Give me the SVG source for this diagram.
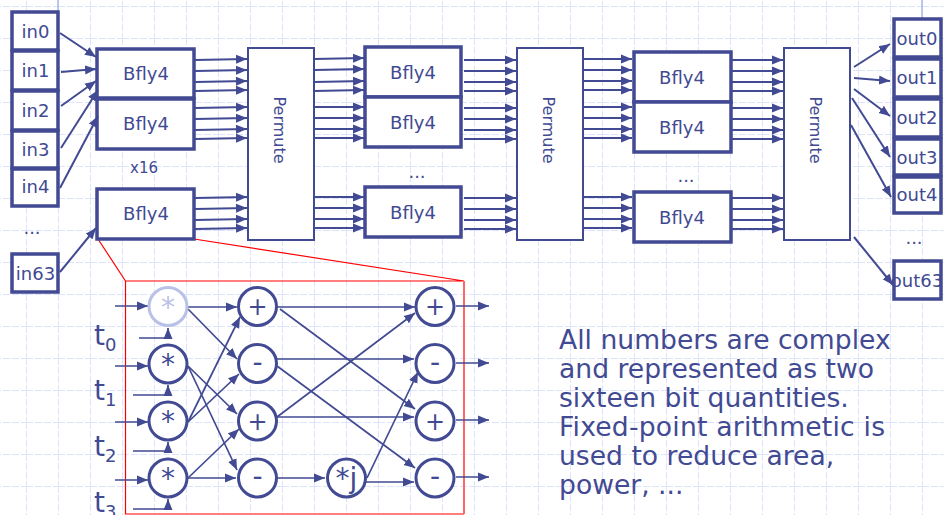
<svg xmlns="http://www.w3.org/2000/svg" width="944" height="515" viewBox="0 0 944 515">
<style>
text{font-family:"DejaVu Sans",Verdana,sans-serif;fill:#414a92}
.b{fill:#fff;stroke:#414a92;stroke-width:3.5}
.p{fill:#fff;stroke:#414a92;stroke-width:2}
.l{font-size:18px;text-anchor:middle}
.c{fill:#fff;stroke:#414a92;stroke-width:3}
.o{font-size:28px;text-anchor:middle}
.q{font-size:24px;text-anchor:middle}
.t{font-size:28px}
.s{font-size:18px}
.m{font-size:26.600px}
.w path{fill:none;stroke:#414a92;stroke-width:2;marker-end:url(#a)}
.n path{fill:none;stroke:#414a92;stroke-width:1.700;marker-end:url(#a)}
</style>
<defs>
<marker id="a" markerUnits="userSpaceOnUse" markerWidth="12" markerHeight="10" refX="11" refY="5" orient="auto"><path d="M0 0.500L11 5L0 9.500Z" fill="#414a92"/></marker>
<pattern id="grid" width="32" height="32" patternUnits="userSpaceOnUse" x="26" y="6"><path d="M0 0H32M0 0V32" fill="none" stroke="#d3dcfa" stroke-width="1.500" stroke-dasharray="7 2"/></pattern>
</defs>
<rect width="944" height="515" fill="#fff"/>
<rect width="944" height="515" fill="url(#grid)"/>
<path d="M58 0V12M922 0V56" stroke="#a9b6ee" stroke-width="1.500" fill="none"/>

<g id="red" fill="none" stroke="#f00" stroke-width="1.200">
<path d="M98 239L125.500 281H464M194 239L464 281"/>
<path d="M125.500 281V514H464"/>
<path d="M464 281V514" stroke="#f66" stroke-width="2"/>
</g>

<g id="in0"><rect class="b" x="12" y="12" width="46" height="38"/><text class="l" x="35.500" y="38">in0</text></g>
<g id="in1"><rect class="b" x="12" y="51" width="46" height="39"/><text class="l" x="35.500" y="77">in1</text></g>
<g id="in2"><rect class="b" x="12" y="91" width="46" height="39"/><text class="l" x="35.500" y="117">in2</text></g>
<g id="in3"><rect class="b" x="12" y="131" width="46" height="37"/><text class="l" x="35.500" y="156">in3</text></g>
<g id="in4"><rect class="b" x="12" y="169" width="46" height="37"/><text class="l" x="35.500" y="193">in4</text></g>
<g id="in63"><rect class="b" x="12" y="254" width="46" height="38"/><text class="l" x="35.500" y="280">in63</text></g>
<text class="l" x="32" y="234">...</text>

<g id="b1"><rect class="b" x="97" y="49" width="97" height="49"/><text class="l" x="146" y="80">Bfly4</text></g>
<g id="b2"><rect class="b" x="97" y="99" width="97" height="50"/><text class="l" x="146" y="130">Bfly4</text></g>
<g id="b3"><rect class="b" x="97" y="189" width="97" height="50"/><text class="l" x="146" y="220">Bfly4</text></g>
<text x="144" y="173" font-size="15" text-anchor="middle">x16</text>

<g id="b4"><rect class="b" x="365" y="47" width="96" height="50"/><text class="l" x="413" y="79">Bfly4</text></g>
<g id="b5"><rect class="b" x="365" y="97" width="96" height="50"/><text class="l" x="413" y="129">Bfly4</text></g>
<g id="b6"><rect class="b" x="365" y="187" width="96" height="50"/><text class="l" x="413" y="219">Bfly4</text></g>
<text class="l" x="417" y="178">...</text>

<g id="b7"><rect class="b" x="634" y="52" width="97" height="50"/><text class="l" x="682" y="84">Bfly4</text></g>
<g id="b8"><rect class="b" x="634" y="102" width="97" height="50"/><text class="l" x="682" y="134">Bfly4</text></g>
<g id="b9"><rect class="b" x="634" y="192" width="97" height="50"/><text class="l" x="682" y="224">Bfly4</text></g>
<text class="l" x="686" y="182">...</text>

<g id="p1"><rect class="p" x="248" y="48" width="66" height="192"/><text font-size="16" text-anchor="middle" transform="translate(274 130) rotate(90)">Permute</text></g>
<g id="p2"><rect class="p" x="517" y="48" width="66" height="192"/><text font-size="16" text-anchor="middle" transform="translate(543 130) rotate(90)">Permute</text></g>
<g id="p3"><rect class="p" x="784" y="48" width="66" height="192"/><text font-size="16" text-anchor="middle" transform="translate(810 130) rotate(90)">Permute</text></g>

<g id="out0"><rect class="b" x="894" y="19" width="47" height="38"/><text class="l" x="917" y="45">out0</text></g>
<g id="out1"><rect class="b" x="894" y="59" width="47" height="38"/><text class="l" x="917" y="84">out1</text></g>
<g id="out2"><rect class="b" x="894" y="99" width="47" height="38"/><text class="l" x="917" y="124">out2</text></g>
<g id="out3"><rect class="b" x="894" y="139" width="47" height="36"/><text class="l" x="917" y="164">out3</text></g>
<g id="out4"><rect class="b" x="894" y="177" width="47" height="36"/><text class="l" x="917" y="201">out4</text></g>
<g id="out63"><rect class="b" x="894" y="261" width="47" height="38"/><text class="l" x="917" y="287">out63</text></g>
<text class="l" x="914" y="244">...</text>

<g id="connectors">
<g class="w">
<path d="M60 33L96 57"/><path d="M61 72L96 69"/><path d="M61 106L96 81"/><path d="M61 148L98 90"/><path d="M60 188L98 116"/><path d="M60 272L96 228"/>
<path d="M195 60L247 59"/><path d="M195 71L247 70"/><path d="M195 82L247 81"/><path d="M195 91L247 90"/><path d="M195 108L247 107"/><path d="M195 119L247 118"/><path d="M195 130L247 129"/><path d="M195 139L247 138"/><path d="M195 198L247 197"/><path d="M195 209L247 208"/><path d="M195 220L247 219"/><path d="M195 229L247 228"/>
<path d="M314 59L364 58"/><path d="M314 70L364 69"/><path d="M314 82L364 81"/><path d="M314 91L364 90"/><path d="M314 107L364 107"/><path d="M314 118L364 118"/><path d="M314 129L364 129"/><path d="M314 138L364 138"/><path d="M314 197L364 197"/><path d="M314 208L364 208"/><path d="M314 219L364 219"/><path d="M314 228L364 228"/>
<path d="M464 60L516 60"/><path d="M464 71L516 71"/><path d="M464 82L516 82"/><path d="M464 91L516 91"/><path d="M464 108L516 108"/><path d="M464 119L516 119"/><path d="M464 130L516 130"/><path d="M464 139L516 139"/><path d="M464 198L516 198"/><path d="M464 209L516 209"/><path d="M464 220L516 220"/><path d="M464 229L516 229"/>
<path d="M583 59L632 59"/><path d="M583 70L632 70"/><path d="M583 81L632 81"/><path d="M583 90L632 90"/><path d="M583 107L632 107"/><path d="M583 118L632 118"/><path d="M583 129L632 129"/><path d="M583 138L632 138"/><path d="M583 197L632 197"/><path d="M583 208L632 208"/><path d="M583 219L632 219"/><path d="M583 228L632 228"/>
<path d="M732 60L783 60"/><path d="M732 71L783 71"/><path d="M732 82L783 82"/><path d="M732 91L783 91"/><path d="M732 108L783 108"/><path d="M732 119L783 119"/><path d="M732 130L783 130"/><path d="M732 139L783 139"/><path d="M732 198L783 198"/><path d="M732 209L783 209"/><path d="M732 220L783 220"/><path d="M732 229L783 229"/>
<path d="M854 67L890 44"/><path d="M854 78L890 81"/><path d="M854 89L890 116"/><path d="M852 98L890 157"/><path d="M851 125L891 197"/><path d="M854 237L893 285"/>
</g>
<g class="n">
<path d="M115 306H148"/><path d="M115 366H148"/><path d="M115 422H148"/><path d="M115 480H148"/>
<path d="M139 338H168V328"/><path d="M133 395H168V385"/><path d="M133 451H168V442"/><path d="M133 509H168V499"/>
<path d="M188 307H237"/><path d="M188 309L237 359"/><path d="M188 366L237 414"/><path d="M188 366L237 470"/><path d="M188 422L240 317"/><path d="M188 422L239 374"/><path d="M188 478L239 429"/><path d="M188 478H236"/>
<path d="M277 307H415"/><path d="M280 309L415 409"/><path d="M277 359H414"/><path d="M277 366L415 468"/><path d="M277 417L415 313"/><path d="M277 417H414"/><path d="M277 478H325"/>
<path d="M367 478L418 372"/><path d="M366 482H414"/>
<path d="M456 306H489"/><path d="M456 363H489"/><path d="M456 420H489"/><path d="M456 477H489"/>
</g>
</g>

<g id="m0"><circle cx="168" cy="306.500" r="19" fill="#fff" stroke="#b9c1e6" stroke-width="3"/><text class="o" x="168" y="317" style="fill:#b9c1e6">*</text></g>
<g id="m1"><circle class="c" cx="168" cy="364" r="19"/><text class="o" x="168" y="374">*</text></g>
<g id="m2"><circle class="c" cx="168" cy="421" r="19"/><text class="o" x="168" y="431">*</text></g>
<g id="m3"><circle class="c" cx="168" cy="478" r="19"/><text class="o" x="168" y="488">*</text></g>
<g id="a1"><circle class="c" cx="257.500" cy="306.500" r="19"/><text class="q" x="257.500" y="315">+</text></g>
<g id="a2"><circle class="c" cx="257.500" cy="363.500" r="19"/><text class="o" x="257.500" y="372">-</text></g>
<g id="a3"><circle class="c" cx="257.500" cy="421" r="19"/><text class="q" x="257.500" y="429.500">+</text></g>
<g id="a4"><circle class="c" cx="257.500" cy="478" r="19"/><text class="o" x="257.500" y="486">-</text></g>
<g id="j"><circle class="c" cx="346.500" cy="478" r="19"/><text class="o" x="346.500" y="488">*j</text></g>
<g id="e1"><circle class="c" cx="435" cy="306.500" r="19"/><text class="q" x="435" y="315">+</text></g>
<g id="e2"><circle class="c" cx="435" cy="363.500" r="19"/><text class="o" x="435" y="372">-</text></g>
<g id="e3"><circle class="c" cx="435" cy="421" r="19"/><text class="q" x="435" y="429.500">+</text></g>
<g id="e4"><circle class="c" cx="435" cy="478" r="19"/><text class="o" x="435" y="486">-</text></g>

<text class="t" x="94" y="345">t<tspan class="s" dy="6">0</tspan></text>
<text class="t" x="94" y="400">t<tspan class="s" dy="6">1</tspan></text>
<text class="t" x="94" y="456">t<tspan class="s" dy="6">2</tspan></text>
<text class="t" x="94" y="512">t<tspan class="s" dy="6">3</tspan></text>

<g id="note">
<text class="m" x="559" y="349">All numbers are complex</text>
<text class="m" x="559" y="378">and represented as two</text>
<text class="m" x="559" y="407">sixteen bit quantities.</text>
<text class="m" x="559" y="436" textLength="326">Fixed-point arithmetic is</text>
<text class="m" x="559" y="465">used to reduce area,</text>
<text class="m" x="559" y="494">power, ...</text>
</g>
</svg>
